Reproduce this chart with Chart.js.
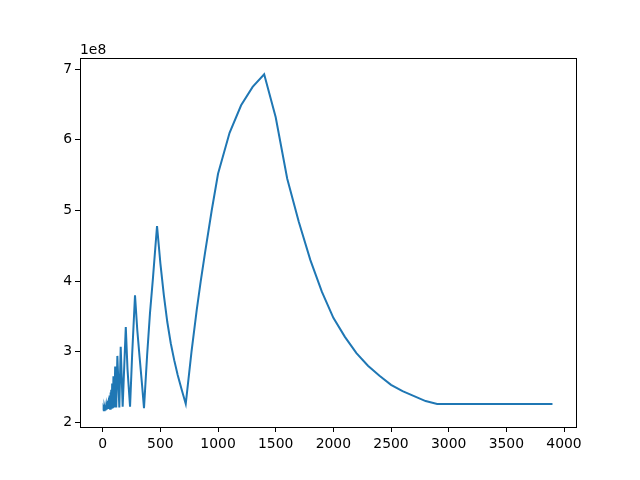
<!DOCTYPE html>
<html>
<head>
<meta charset="utf-8">
<script src="https://cdn.jsdelivr.net/npm/chart.js@4/dist/chart.umd.min.js"></script>
<style>
  html, body { margin: 0; padding: 0; background: #fff; }
  canvas { display: block; }
</style>
</head>
<body>
<canvas id="chart" width="640" height="480"></canvas>
<script>
// x positions of the samples (rows of 10, matching yValues)
const xValues = [
  1, 4, 6, 8, 10, 12, 14, 16, 18, 20,
  22, 24, 26, 28, 30, 32, 34, 36, 38, 40,
  42, 44, 46, 48, 50, 52, 55, 58, 61, 64,
  67, 70, 74, 78, 82, 88, 93, 100, 108, 117,
  127, 144, 156, 173, 200, 215, 237, 255, 280, 300,
  320, 340, 358, 385, 410, 436, 455, 471, 500, 530,
  560, 590, 620, 650, 685, 720, 770, 815, 850, 887,
  945, 1000, 1100, 1200, 1300, 1400, 1500, 1600, 1700, 1800,
  1900, 2000, 2100, 2200, 2300, 2400, 2500, 2600, 2700, 2800,
  2900, 3000, 3100, 3200, 3300, 3400, 3500, 3600, 3700, 3800, 3900
];
// values, in units of 1e8
const yValues = [
  2.17, 2.17, 2.19, 2.17, 2.19, 2.17, 2.20, 2.17, 2.21, 2.18,
  2.22, 2.18, 2.23, 2.18, 2.24, 2.18, 2.25, 2.18, 2.26, 2.19,
  2.28, 2.19, 2.30, 2.19, 2.32, 2.19, 2.35, 2.19, 2.38, 2.19,
  2.42, 2.19, 2.46, 2.19, 2.55, 2.20, 2.65, 2.21, 2.79, 2.21,
  2.94, 2.21, 3.07, 2.22, 3.35, 2.75, 2.22, 2.95, 3.80, 3.30,
  2.92, 2.55, 2.20, 2.95, 3.55, 4.05, 4.45, 4.78, 4.25, 3.80,
  3.42, 3.12, 2.88, 2.67, 2.46, 2.26, 3.00, 3.59, 4.00, 4.40,
  5.00, 5.52, 6.10, 6.49, 6.75, 6.93, 6.32, 5.45, 4.84, 4.30,
  3.85, 3.48, 3.21, 2.98, 2.80, 2.66, 2.53, 2.44, 2.37, 2.30,
  2.26, 2.26, 2.26, 2.26, 2.26, 2.26, 2.26, 2.26, 2.26, 2.26, 2.26
];
const xTicks = [0, 500, 1000, 1500, 2000, 2500, 3000, 3500, 4000];
const yTicks = [2, 3, 4, 5, 6, 7];
const offsetLabel = '1e8';

const FONT = { family: 'DejaVu Sans', size: 13.9 };

// box around the plot area + the "1e8" multiplier text
const framePlugin = {
  id: 'frame',
  afterDraw(chart) {
    const { ctx, chartArea: a } = chart;
    ctx.save();
    ctx.strokeStyle = '#000';
    ctx.lineWidth = 1;
    ctx.strokeRect(a.left + 0.5, a.top + 0.5, a.right - a.left, a.bottom - a.top);
    ctx.fillStyle = '#000';
    ctx.font = `${FONT.size}px "${FONT.family}"`;
    ctx.textAlign = 'left';
    ctx.textBaseline = 'alphabetic';
    ctx.fillText(offsetLabel, a.left, a.top - 4.5);
    ctx.restore();
  }
};

new Chart(document.getElementById('chart'), {
  type: 'scatter',
  data: {
    datasets: [{
      data: xValues.map((x, i) => ({ x: x, y: yValues[i] })),
      showLine: true,
      borderColor: '#1f77b4',
      borderWidth: 2,
      pointRadius: 0,
      tension: 0,
      fill: false
    }]
  },
  options: {
    responsive: false,
    animation: false,
    devicePixelRatio: 1,
    layout: { padding: { left: 0, top: 58, right: 64, bottom: 0 } },
    plugins: { legend: { display: false }, tooltip: { enabled: false } },
    scales: {
      x: {
        type: 'linear',
        min: -197,
        max: 4104,
        afterBuildTicks: (scale) => { scale.ticks = xTicks.map(v => ({ value: v })); },
        afterFit: (scale) => { scale.height = 53; },
        border: { display: false },
        grid: { drawOnChartArea: false, drawTicks: true, tickLength: 5, color: '#000', lineWidth: 1 },
        ticks: { color: '#000', font: FONT, padding: 4, maxRotation: 0, autoSkip: false,
                 callback: (v) => String(v) }
      },
      y: {
        type: 'linear',
        min: 1.933,
        max: 7.16,
        afterBuildTicks: (scale) => { scale.ticks = yTicks.map(v => ({ value: v })); },
        afterFit: (scale) => { scale.width = 80; },
        border: { display: false },
        grid: { drawOnChartArea: false, drawTicks: true, tickLength: 5, color: '#000', lineWidth: 1 },
        ticks: { color: '#000', font: FONT, padding: 3, callback: (v) => String(v) }
      }
    }
  },
  plugins: [framePlugin]
});
</script>
</body>
</html>
